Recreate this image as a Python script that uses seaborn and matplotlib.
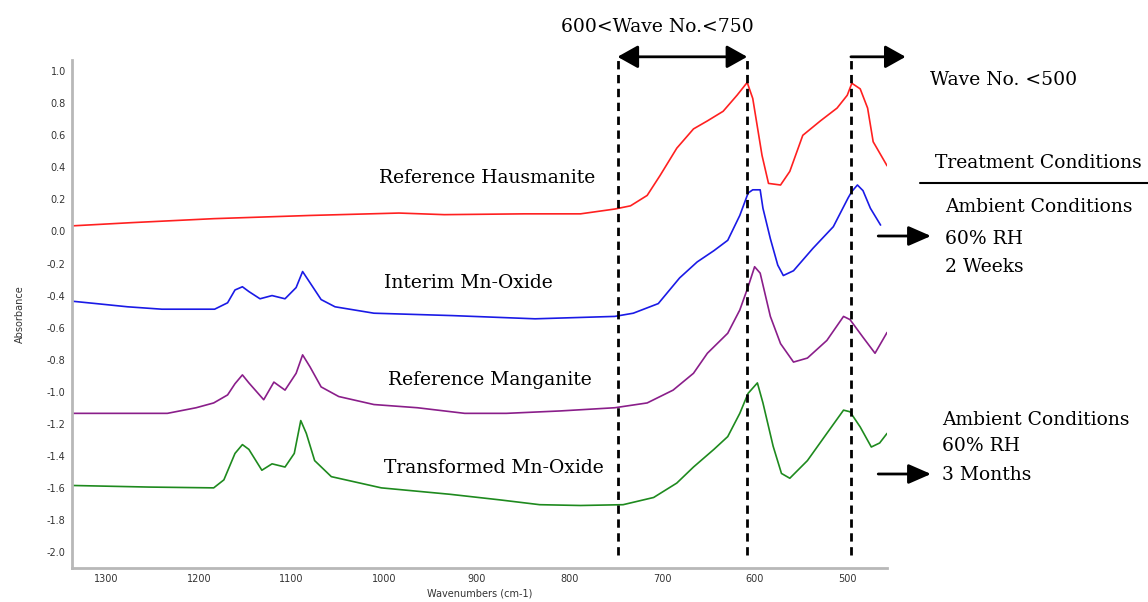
import numpy as np
import pandas as pd
import matplotlib
matplotlib.use("Agg")
import matplotlib.pyplot as plt
from matplotlib.ticker import MultipleLocator, FormatStrFormatter
import seaborn as sns

# ---------------- data ----------------
haus_w = [1337, 1273, 1184, 1080, 984, 935, 849, 788, 751, 734, 716, 702, 684, 666, 651, 634,
          619, 608, 602, 592, 585, 572, 562, 548, 529, 511, 500, 495, 486, 478, 472, 457]
haus_a = [0.035, 0.055, 0.08, 0.10, 0.115, 0.105, 0.11, 0.11, 0.14, 0.16, 0.225, 0.35, 0.52, 0.64,
          0.69, 0.75, 0.85, 0.93, 0.83, 0.475, 0.30, 0.29, 0.375, 0.60, 0.69, 0.77, 0.85, 0.925,
          0.89, 0.77, 0.56, 0.41]

interim_w = [1337, 1311, 1277, 1240, 1183, 1169, 1161, 1153, 1146, 1134, 1121, 1107, 1095, 1088,
             1080, 1068, 1053, 1011, 926, 837, 751, 731, 704, 681, 662, 644, 629, 616, 607, 602,
             594, 591, 583, 575, 569, 558, 537, 515, 499, 495, 489, 483, 475, 464]
interim_a = [-0.435, -0.45, -0.47, -0.485, -0.485, -0.445, -0.365, -0.345, -0.375, -0.42, -0.40,
             -0.42, -0.35, -0.25, -0.32, -0.425, -0.47, -0.51, -0.525, -0.545, -0.53, -0.51, -0.45,
             -0.29, -0.19, -0.12, -0.055, 0.10, 0.24, 0.26, 0.26, 0.145, -0.045, -0.21, -0.275,
             -0.245, -0.105, 0.03, 0.21, 0.25, 0.29, 0.255, 0.145, 0.04]

mang_w = [1337, 1234, 1203, 1184, 1169, 1161, 1153, 1146, 1130, 1119, 1107, 1095, 1088, 1080,
          1068, 1049, 1011, 964, 913, 868, 810, 751, 716, 688, 666, 651, 629, 616, 607, 600, 594,
          583, 572, 558, 543, 522, 504, 497, 483, 470, 457]
mang_a = [-1.135, -1.135, -1.10, -1.07, -1.02, -0.95, -0.895, -0.945, -1.05, -0.94, -0.99, -0.885,
          -0.77, -0.845, -0.97, -1.03, -1.08, -1.10, -1.135, -1.135, -1.12, -1.10, -1.07, -0.99,
          -0.885, -0.76, -0.635, -0.49, -0.345, -0.22, -0.26, -0.53, -0.70, -0.815, -0.79, -0.68,
          -0.53, -0.55, -0.66, -0.76, -0.63]

trans_w = [1337, 1254, 1184, 1173, 1161, 1153, 1146, 1132, 1121, 1107, 1097, 1090, 1084, 1075,
           1057, 1003, 929, 875, 832, 788, 742, 709, 684, 666, 644, 629, 616, 607, 597, 591, 580,
           571, 562, 543, 522, 504, 497, 486, 474, 465, 457]
trans_a = [-1.585, -1.595, -1.60, -1.55, -1.385, -1.33, -1.36, -1.49, -1.45, -1.47, -1.385, -1.18,
           -1.26, -1.43, -1.53, -1.60, -1.64, -1.675, -1.705, -1.71, -1.705, -1.66, -1.57, -1.47,
           -1.36, -1.28, -1.135, -1.01, -0.945, -1.07, -1.34, -1.51, -1.54, -1.43, -1.26, -1.115,
           -1.125, -1.22, -1.345, -1.32, -1.26]

series_names = ["Reference Hausmanite", "Interim Mn-Oxide", "Reference Manganite", "Transformed Mn-Oxide"]
series_colors = ["#ff2020", "#1a1ae6", "#8a1e8a", "#1e8a1e"]

x_ticks = [1300, 1200, 1100, 1000, 900, 800, 700, 600, 500]
marker_lines = [748, 608, 496]

# ---------------- build long table ----------------
frames = []
for name, w, a in zip(series_names,
                      [haus_w, interim_w, mang_w, trans_w],
                      [haus_a, interim_a, mang_a, trans_a]):
    frames.append(pd.DataFrame({"wavenumber": w, "absorbance": a, "sample": name}))
df = pd.concat(frames, ignore_index=True)

sns.set_style("white")
plt.rcParams["font.family"] = ["DejaVu Sans"]
plt.rcParams["text.color"] = "black"

fig = plt.figure(figsize=(11.48, 6.02), dpi=100)
ax = fig.add_axes([0.0627, 0.0565, 0.71, 0.8438])

sns.lineplot(data=df, x="wavenumber", y="absorbance", hue="sample",
             palette=dict(zip(series_names, series_colors)), estimator=None,
             sort=False, legend=False, linewidth=1.2, ax=ax)

ax.set_xlim(1337, 457)
ax.set_ylim(-2.10, 1.07)
ax.set_xticks(x_ticks)
ax.xaxis.set_minor_locator(MultipleLocator(25))
ax.yaxis.set_major_locator(MultipleLocator(0.2))
ax.yaxis.set_minor_locator(MultipleLocator(0.025))
ax.yaxis.set_major_formatter(FormatStrFormatter("%.1f"))
ax.tick_params(axis="both", which="major", labelsize=7, length=3, width=1.2,
               direction="inout", color="#333333", labelcolor="#333333", pad=3)
ax.tick_params(axis="both", which="minor", length=2, width=1, direction="inout", color="#555555")
for s in ["top", "right"]:
    ax.spines[s].set_visible(False)
for s in ["left", "bottom"]:
    ax.spines[s].set_color("#b8b8b8")
    ax.spines[s].set_linewidth(2)
ax.set_xlabel("Wavenumbers (cm-1)", fontsize=7, color="#333333", labelpad=3)
ax.set_ylabel("Absorbance", fontsize=7, color="#333333", labelpad=16)

# ---------------- annotations ----------------
serif = ["DejaVu Serif"]
y_top = 1.09
for xv in marker_lines:
    ax.plot([xv, xv], [-2.02, y_top], ls=(0, (3, 2)), color="black", lw=2, clip_on=False)

ax.annotate("", xy=(marker_lines[1], y_top), xytext=(marker_lines[0], y_top),
            arrowprops=dict(arrowstyle="<|-|>,head_length=0.5,head_width=0.28", color="black",
                            lw=2, mutation_scale=25, shrinkA=0, shrinkB=0),
            annotation_clip=False)
ax.annotate("", xy=(437, y_top), xytext=(marker_lines[2], y_top),
            arrowprops=dict(arrowstyle="-|>,head_length=0.5,head_width=0.28", color="black",
                            lw=2, mutation_scale=25, shrinkA=0, shrinkB=0),
            annotation_clip=False)

fs = 13.5
tkw = dict(family=serif, fontsize=fs, color="black", va="center")
fig.text(0.573, 0.955, "600<Wave No.<750", ha="center", **tkw)
fig.text(0.810, 0.867, "Wave No. <500", ha="left", **tkw)

for name, (xf, yf) in zip(series_names, [(0.424, 0.704), (0.408, 0.530), (0.427, 0.369), (0.430, 0.223)]):
    fig.text(xf, yf, name, ha="center", **tkw)

fig.text(0.8145, 0.729, "Treatment Conditions", ha="left", **tkw)
fig.add_artist(plt.Line2D([0.801, 1.0], [0.696, 0.696], transform=fig.transFigure, color="black", lw=1.5))

fig.text(0.823, 0.656, "Ambient Conditions", ha="left", **tkw)
fig.text(0.823, 0.603, "60% RH", ha="left", **tkw)
fig.text(0.823, 0.556, "2 Weeks", ha="left", **tkw)

fig.text(0.8206, 0.302, "Ambient Conditions", ha="left", **tkw)
fig.text(0.8206, 0.259, "60% RH", ha="left", **tkw)
fig.text(0.8206, 0.211, "3 Months", ha="left", **tkw)

for yf in [1 - 236 / 602, 1 - 474 / 602]:
    ax.annotate("", xy=(0.811, yf), xytext=(0.765, yf), xycoords="figure fraction",
                textcoords="figure fraction",
                arrowprops=dict(arrowstyle="-|>,head_length=0.55,head_width=0.24", color="black",
                                lw=2, mutation_scale=25, shrinkA=0, shrinkB=0),
                annotation_clip=False)

fig.savefig("out.png", dpi=100, facecolor="white")
